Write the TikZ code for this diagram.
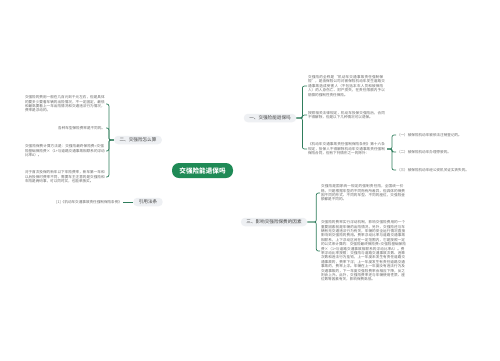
\documentclass[tikz,border=0pt]{standalone}
\usepackage{fontspec}
\setmainfont{Noto Sans CJK SC}
\usetikzlibrary{backgrounds}
\XeTeXlinebreaklocale "zh"
\XeTeXlinebreakskip=0pt plus 0.5pt
\definecolor{rootgreen}{HTML}{1F8A56}
\definecolor{linegreen}{HTML}{2F7D5C}
\definecolor{topicbg}{HTML}{EEF0F3}
\definecolor{topictext}{HTML}{404040}
\definecolor{leaftext}{HTML}{6A6A6A}
\begin{document}
\begin{tikzpicture}[x=1pt,y=-1pt,
 rootnode/.style={fill=rootgreen,rounded corners=7pt,minimum width=61pt,minimum height=15pt,text=white,font=\fontsize{6.6}{7}\selectfont\bfseries,inner sep=0pt},
 topic/.style={fill=topicbg,rounded corners=4pt,minimum height=8.5pt,inner xsep=5.5pt,inner ysep=0pt,text=topictext,font=\fontsize{4.6}{5}\selectfont},
 leaf/.style={inner sep=0.8pt,text=leaftext,font=\fontsize{3.6}{4.4}\selectfont,align=left},
 link/.style={draw=linegreen,line width=0.8pt},
 brace/.style={draw=linegreen,line width=0.7pt,rounded corners=2pt}]
\fill[white] (0,0) rectangle (500,360);
\useasboundingbox (0,0) rectangle (500,360);

\node[rootnode] (root) at (202.5,170.5) {交强险能退保吗};
\node[topic] (b1) at (270,118) {一、交强险能退保吗};
\node[topic] (b2) at (138,140) {二、交强险怎么算};
\node[topic] (b3) at (148,202) {引用法条};
\node[topic] (b4) at (274,222) {三、影响交强险保费的因素};

% branch 1
\node[leaf,text width=78pt,anchor=west] (a1) at (307,86) {交强险的全称是“机动车交通事故责任强制保险”，是由保险公司对被保险机动车发生道路交通事故造成受害人（不包括本车人员和被保险人）的人身伤亡、财产损失，在责任限额内予以赔偿的强制性责任保险。};
\node[leaf,text width=78pt,anchor=west] (a2) at (307,115) {按照相关法律规定，机动车投保交强险后，合同不得解除，但是以下几种情况可以退保。};
\node[leaf,text width=78pt,anchor=west] (a3) at (307,149) {《机动车交通事故责任强制保险条例》第十六条规定，投保人不得解除机动车交通事故责任强制保险合同，但有下列情形之一的除外：};
\node[leaf,anchor=west] (s1) at (396,135) {（一）被保险机动车被依法注销登记的。};
\node[leaf,anchor=west] (s2) at (396,152) {（二）被保险机动车办理停驶的。};
\node[leaf,anchor=west] (s3) at (396,170) {（三）被保险机动车经公安机关证实丢失的。};

% branch 2
\node[leaf,text width=80pt,anchor=east] (l1) at (106,104) {交强险的费用一般在几百元到千元左右，但是具体的要多少要看车辆的出险情况，不一定固定，最低和最高要看上一年出险情况和交通违法行为情况，费率是浮动的。};
\node[leaf,anchor=east] (l2) at (106,128) {各种车型保险费率是不同的。};
\node[leaf,text width=80pt,anchor=east] (l3) at (106,151) {交强险保费计算方法是：交强险最终保险费=交强险基础保险费×（1+与道路交通事故相联系的浮动比率A）。};
\node[leaf,text width=80pt,anchor=east] (l4) at (106,177) {对于首次投保的新车以下车险费率，新车第一年和以后投保时费率不同，需要车主注意的是交强险和车险是两码事，可以同时买，也能单独买。};

% references
\node[leaf,anchor=east] (r1) at (123,202) {[1]《机动车交通事故责任强制保险条例》};

% branch 3
\node[leaf,text width=85pt,anchor=west] (d1) at (320,193) {交强险是国家统一规定的强制责任险，全国统一价格，只是根据车型的不同而有所差异，但具体的保费因不同的形式、不同的车型、不同的座位，交强险金额都是不同的。};
\node[leaf,text width=85pt,anchor=west] (d2) at (320,251) {交强险的费率实行浮动机制，影响交强险费用的一个重要因素就是车辆的出险情况，另外，交强险还与车辆有无交通违法行为有关，车辆的安全运行情况直接影响到交强险的费用。费率浮动比率与道路交通事故相联系，上下浮动区间在一定范围内，它是按照一定的公式来计算的：交强险最终保险费=交强险基础保险费×（1+与道路交通事故相联系的浮动比率A）。费率浮动比率按照：交强险与道路交通事故次数、违章次数和违法行为挂钩，上一年度未发生有责任道路交通事故的，费率下浮；上一年度发生有责任道路交通事故的，费率上浮。车辆在上一年度没有违法行为及交通事故的，下一年度交强险费率会相应下降，反之则会上升。此外，交强险费率还与车辆使用性质、座位数等因素有关，影响保费高低。};

\begin{scope}[on background layer]
\draw[link] (root.center) .. controls (203,128) and (212,118) .. (b1.west);
\draw[link] (root.center) .. controls (203,215) and (212,222) .. (b4.west);
\draw[link] (root.center) .. controls (200,150) and (186,140) .. (b2.east);
\draw[link] (root.center) .. controls (200,192) and (186,202) .. (b3.east);
\end{scope}

\foreach \c in {a1,a2,a3} \draw[brace] (b1.east) -- ++(6,0) |- (\c.west);
\foreach \c in {s1,s2,s3} \draw[brace] (a3.east) -- ++(5,0) |- (\c.west);
\foreach \c in {l1,l2,l3,l4} \draw[brace] (b2.west) -- ++(-5,0) |- (\c.east);
\draw[link] (b3.west) -- (r1.east);
\foreach \c in {d1,d2} \draw[brace] (b4.east) -- ++(9,0) |- (\c.west);
\end{tikzpicture}
\end{document}
